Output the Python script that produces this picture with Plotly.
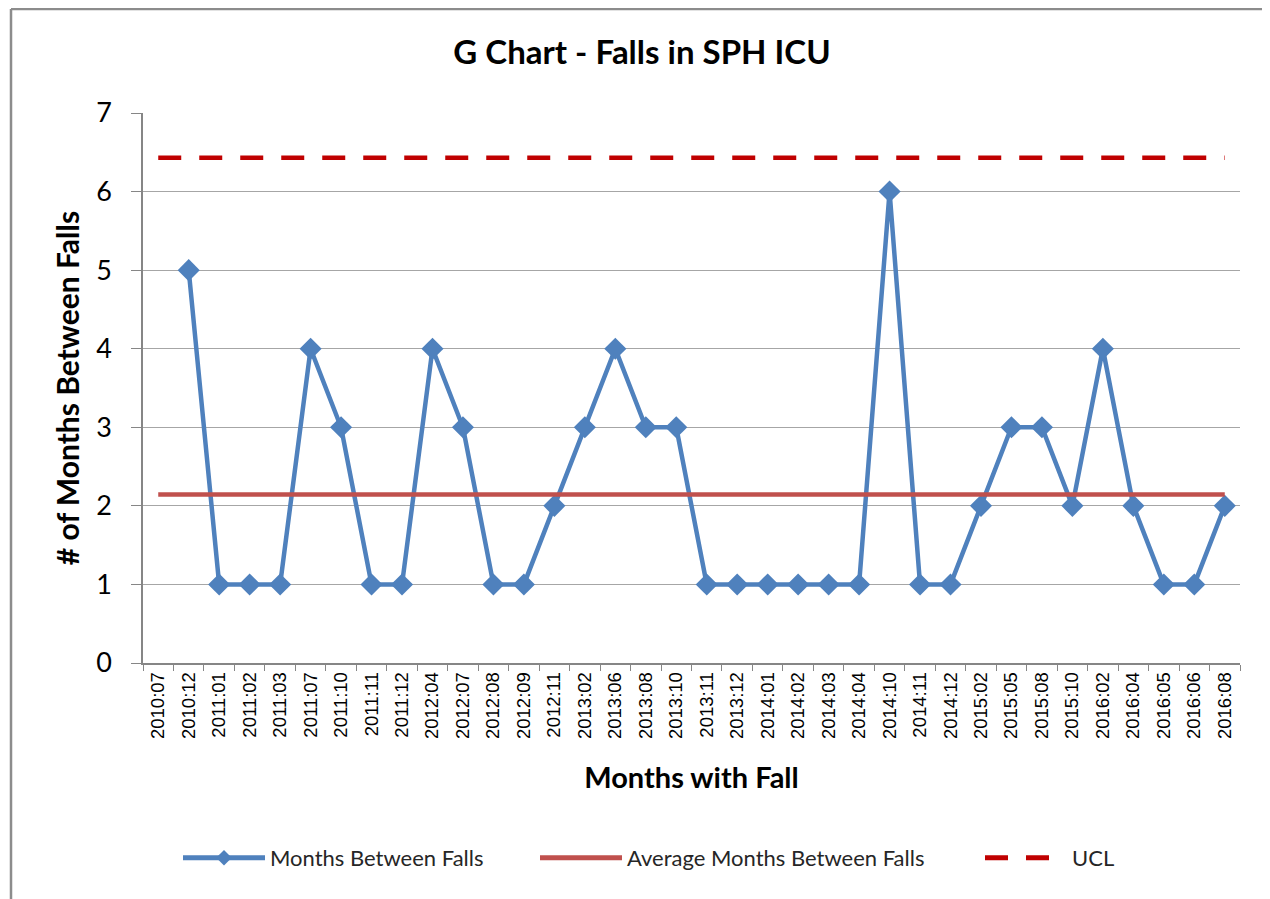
import plotly.graph_objects as go

categories = ["2010:07", "2010:12", "2011:01", "2011:02", "2011:03", "2011:07", "2011:10",
              "2011:11", "2011:12", "2012:04", "2012:07", "2012:08", "2012:09", "2012:11",
              "2013:02", "2013:06", "2013:08", "2013:10", "2013:11", "2013:12", "2014:01",
              "2014:02", "2014:03", "2014:04", "2014:10", "2014:11", "2014:12", "2015:02",
              "2015:05", "2015:08", "2015:10", "2016:02", "2016:04", "2016:05", "2016:06",
              "2016:08"]
months_between = [None, 5, 1, 1, 1, 4, 3, 1, 1, 4, 3, 1, 1, 2, 3, 4, 3, 3, 1, 1, 1,
                  1, 1, 1, 6, 1, 1, 2, 3, 3, 2, 4, 2, 1, 1, 2]
average_value = 2.143
ucl_value = 6.43
average_line = [average_value] * len(categories)
ucl_line = [ucl_value] * len(categories)

FONT = "Lato"
W, H = 1262, 891           # page body has an 8px margin in the browser
L, R, T, B = 135, 1232, 105, 655   # plot area in figure pixels
PW, PH = R - L, B - T

def px(x):
    return (x - L) / PW

def py(y):
    return (B - y) / PH

fig = go.Figure()
fig.add_trace(go.Scatter(
    x=categories, y=months_between, name="Months Between Falls", mode="lines+markers",
    line=dict(color="#4F81BD", width=4.5),
    marker=dict(symbol="diamond", size=17, color="#4F81BD"),
    legend="legend",
))
fig.add_trace(go.Scatter(
    x=categories, y=average_line, name="Average Months Between Falls", mode="lines",
    line=dict(color="#C0504D", width=4.5),
    legend="legend2",
))
fig.add_trace(go.Scatter(
    x=categories, y=ucl_line, name="UCL", mode="lines",
    line=dict(color="#C00000", width=4.5, dash="23px,18px"),
    legend="legend3",
))

leg_common = dict(orientation="h", xanchor="left", yanchor="middle", y=py(850),
                  font=dict(size=22, family=FONT, color="#262626"),
                  bgcolor="rgba(0,0,0,0)", itemwidth=82, itemsizing="constant")

fig.update_layout(
    width=W, height=H,
    paper_bgcolor="white", plot_bgcolor="white",
    margin=dict(l=L, r=W - R, t=T, b=H - B),
    font=dict(family=FONT, color="#000000"),
    title=dict(text="<b>G Chart - Falls in SPH ICU</b>", x=634 / W, xanchor="center",
               y=1 - 44 / H, yanchor="middle", font=dict(size=33, family=FONT, color="#000")),
    showlegend=True,
    legend=dict(leg_common, x=px(170)),
    legend2=dict(leg_common, x=px(527)),
    legend3=dict(leg_common, x=px(972)),
)
fig.update_xaxes(
    type="category", range=[-0.5, len(categories) - 0.5],
    showgrid=False, showline=True, linecolor="#868686", linewidth=1.5,
    ticks="outside", ticklen=6, tickcolor="#868686", tickson="boundaries",
    tickangle=-90, tickfont=dict(family="Liberation Sans", size=18.5, color="#000"),
    title=dict(text="<b>Months with Fall</b>", font=dict(size=29, family=FONT, color="#000"), standoff=30),
)
fig.update_yaxes(
    range=[0, 7], dtick=1, showgrid=True, gridcolor="#A6A6A6", gridwidth=1,
    showline=True, linecolor="#868686", linewidth=1.5, zeroline=False,
    ticks="outside", ticklen=10, tickcolor="#868686", ticklabelstandoff=14,
    tickfont=dict(size=27, family=FONT, color="#000"),
    title=dict(text="<b># of Months Between Falls</b>", font=dict(size=30, family=FONT, color="#000"), standoff=8),
)

# chart frame (left and top borders)
fl = px(3)
ft = py(1)
fig.add_shape(type="line", xref="paper", yref="paper", x0=fl, x1=fl, y0=py(H + 5), y1=ft,
              line=dict(color="#8C8C8C", width=2.5))
fig.add_shape(type="line", xref="paper", yref="paper", x0=fl, x1=px(W + 5), y0=ft, y1=ft,
              line=dict(color="#8C8C8C", width=2.5))

fig.write_html("out.html")
